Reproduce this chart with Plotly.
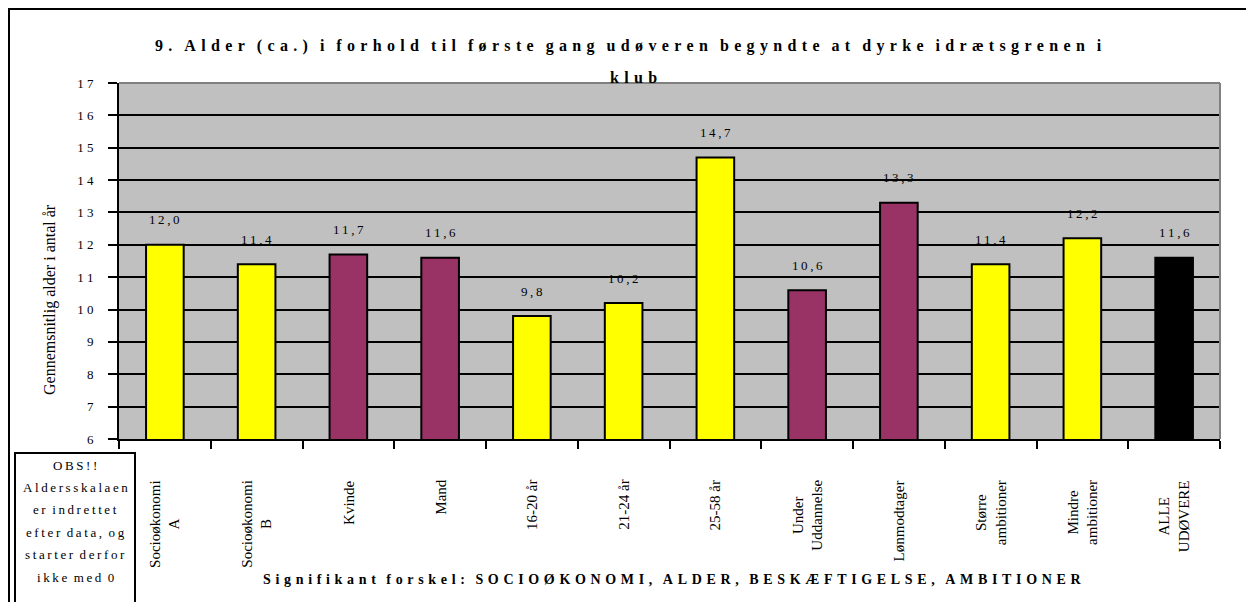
import plotly.graph_objects as go

# data
categories = ["Socioøkonomi A", "Socioøkonomi B", "Kvinde", "Mand", "16-20 år", "21-24 år",
              "25-58 år", "Under Uddannelse", "Lønmodtager", "Større ambitioner",
              "Mindre ambitioner", "ALLE UDØVERE"]
tick_labels = ["Socioøkonomi<br>A", "Socioøkonomi<br>B", "Kvinde", "Mand", "16-20 år", "21-24 år",
               "25-58 år", "Under<br>Uddannelse", "Lønmodtager", "Større<br>ambitioner",
               "Mindre<br>ambitioner", "ALLE<br>UDØVERE"]
ages = [12.0, 11.4, 11.7, 11.6, 9.8, 10.2, 14.7, 10.6, 13.3, 11.4, 12.2, 11.6]
groups = ["y", "y", "m", "m", "y", "y", "y", "m", "m", "y", "y", "k"]
y_ticks = list(range(6, 18))

palette = {"y": "#FFFF00", "m": "#993366", "k": "#000000"}
SERIF = "Liberation Serif"

# the page body has an 8px margin, so work in screen pixels and shift
OFF = 8
W, H = 1254 - OFF, 602 - OFF
L, R, T, B = 119 - OFF, 1220 - OFF, 83 - OFF, 439 - OFF


def px(x):
    return (x - OFF - L) / (R - L)


def py(y):
    return (B - (y - OFF)) / (B - T)


def spaced(s, gap="\u00a0", word="\u00a0\u00a0\u00a0"):
    return word.join(gap.join(w) for w in s.split(" "))


fig = go.Figure(go.Bar(
    x=categories, y=ages,
    marker=dict(color=[palette[g] for g in groups], line=dict(color="black", width=2)),
    hoverinfo="x+y",
))

ann = []
for c, v in zip(categories, ages):
    ann.append(dict(x=c, y=v, xref="x", yref="y", text=spaced(f"{v:.1f}".replace(".", ","), gap="\u2009"),
                    showarrow=False, yanchor="middle", yshift=25,
                    font=dict(family=SERIF, size=13, color="black")))
for c, t in zip(categories, tick_labels):
    ann.append(dict(x=c, y=py(478), xref="x", yref="paper", text=t, textangle=-90,
                    showarrow=False, xanchor="center", yanchor="top",
                    font=dict(family=SERIF, size=15, color="black")))

wide = "\u00a0\u200a"
title = "9. Alder (ca.) i forhold til første gang udøveren begyndte at dyrke idrætsgrenen i"
ann.append(dict(x=px(628), y=py(46), xref="paper", yref="paper",
                text="<b>" + spaced(title, gap=wide) + "</b>", yanchor="middle",
                showarrow=False, xanchor="center", font=dict(family=SERIF, size=16, color="black")))
ann.append(dict(x=px(633), y=py(78), xref="paper", yref="paper",
                text="<b>" + spaced("klub", gap=wide) + "</b>", yanchor="middle",
                showarrow=False, xanchor="center", font=dict(family=SERIF, size=16, color="black")))
xtitle = "Signifikant forskel: SOCIOØKONOMI, ALDER, BESKÆFTIGELSE, AMBITIONER"
ann.append(dict(x=px(672), y=py(579), xref="paper", yref="paper",
                text="<b>" + spaced(xtitle, gap=wide) + "</b>", yanchor="middle",
                showarrow=False, xanchor="center", font=dict(family=SERIF, size=14, color="black")))
ann.append(dict(x=px(50), y=py(300), xref="paper", yref="paper", text="Gennemsnitlig alder i antal år",
                textangle=-90, showarrow=False, xanchor="center", yanchor="middle",
                font=dict(family=SERIF, size=16, color="black")))

obs = ["OBS!!", "Aldersskalaen", "er indrettet", "efter data, og", "starter derfor", "ikke med 0"]
for i, line in enumerate(obs):
    ann.append(dict(x=px(75), y=py(465 + i * 22.4), xref="paper", yref="paper",
                    text=spaced(line, gap="\u2009", word="\u00a0\u00a0"),
                    xanchor="center", yanchor="middle",
                    showarrow=False, font=dict(family=SERIF, size=13, color="black")))

shapes = [
    dict(type="rect", xref="paper", yref="paper", x0=px(9), x1=px(1270), y0=py(620), y1=py(9),
         line=dict(color="black", width=2)),
    dict(type="rect", xref="paper", yref="paper", x0=px(15), x1=px(135), y0=py(620), y1=py(453),
         line=dict(color="black", width=2)),
    dict(type="line", xref="paper", yref="paper", x0=0, x1=1, y0=1, y1=1,
         line=dict(color="#808080", width=2)),
    dict(type="line", xref="paper", yref="paper", x0=1, x1=1, y0=0, y1=1,
         line=dict(color="#808080", width=2)),
]

fig.update_layout(
    width=W, height=H,
    margin=dict(l=L, r=W - R, t=T, b=H - B, autoexpand=False),
    paper_bgcolor="white", plot_bgcolor="#C0C0C0",
    bargap=0.59, showlegend=False,
    annotations=ann, shapes=shapes,
    font=dict(family=SERIF, color="black"),
)
fig.update_xaxes(showticklabels=False, ticks="outside", tickson="boundaries", ticklen=8,
                 tickwidth=2, tickcolor="black", showline=True, linecolor="black", linewidth=2,
                 showgrid=False, fixedrange=True)
fig.update_yaxes(range=[6, 17], tickvals=y_ticks, ticktext=[spaced(str(v)) for v in y_ticks],
                 ticks="outside", ticklen=9, tickwidth=2, tickcolor="black",
                 showline=True, linecolor="black", linewidth=2,
                 showgrid=True, gridcolor="black", gridwidth=2, zeroline=False,
                 tickfont=dict(family=SERIF, size=13, color="black"), ticklabelstandoff=12)

fig.write_html("out.html")
